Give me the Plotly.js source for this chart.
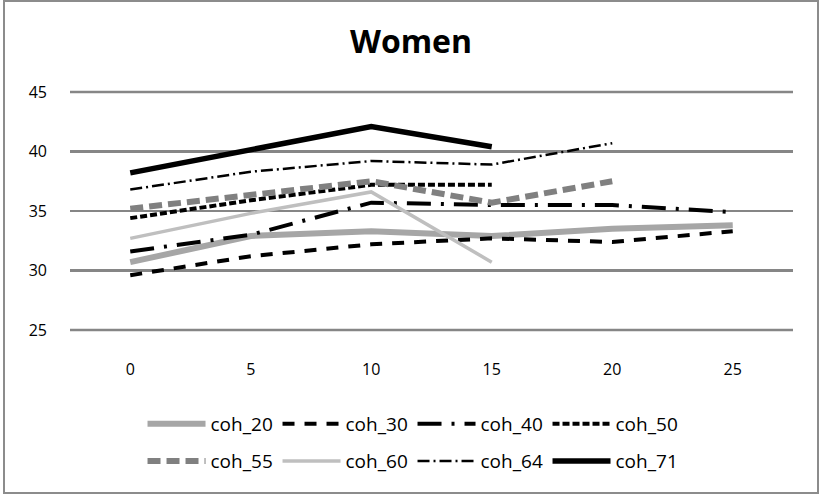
<!DOCTYPE html>
<html><head><meta charset="utf-8">
<script src="https://cdn.plot.ly/plotly-3.0.1.min.js"></script>
<style>html,body{margin:0;padding:0;background:#fff}#c{position:absolute;left:3px;top:0;width:812px;height:490px;border:2px solid #8c8c8c}</style>
</head><body><div id="c"></div>
<script>
const xLabels = ["0","5","10","15","20","25"];
const yTicks = [25, 30, 35, 40, 45];
const coh_20 = [30.7, 32.9, 33.3, 32.9, 33.5, 33.8];
const coh_30 = [29.6, 31.2, 32.2, 32.7, 32.4, 33.3];
const coh_40 = [31.6, 33.0, 35.7, 35.5, 35.5, 34.9];
const coh_50 = [34.4, 35.9, 37.2, 37.2, null, null];
const coh_55 = [35.2, 36.4, 37.5, 35.7, 37.5, null];
const coh_60 = [32.7, 34.8, 36.6, 30.7, null, null];
const coh_64 = [36.8, 38.3, 39.2, 38.9, 40.7, null];
const coh_71 = [38.2, 40.2, 42.1, 40.4, null, null];
const names = ["coh_20","coh_30","coh_40","coh_50","coh_55","coh_60","coh_64","coh_71"];
const series = [coh_20, coh_30, coh_40, coh_50, coh_55, coh_60, coh_64, coh_71];
const styles = [
  {color:"#A6A6A6", width:6, dash:"solid"},
  {color:"#000000", width:4, dash:"12px,10px"},
  {color:"#000000", width:4, dash:"24px,10px,3px,10px"},
  {color:"#000000", width:4, dash:"7px,3px"},
  {color:"#808080", width:6, dash:"13px,6px"},
  {color:"#BFBFBF", width:3.5, dash:"solid"},
  {color:"#000000", width:2.5, dash:"12px,4px,2px,4px"},
  {color:"#000000", width:5.5, dash:"solid"}
];
const traces = series.map((s,i)=>({
  type:"scatter", mode:"lines", name:names[i], x:xLabels, y:s,
  line:Object.assign({}, styles[i]), connectgaps:false,
  legend: i < 4 ? "legend" : "legend2"
}));
const legBase = {orientation:"h", x:0.1003, xanchor:"left", yanchor:"middle",
  font:{size:19, family:"Open Sans, sans-serif", color:"#000"},
  itemwidth:58, entrywidth:62, bgcolor:"rgba(0,0,0,0)", borderwidth:0};
const gridColor = "#868686";
const edgeGrid = [0, 1].map(v=>({
  type:"line", xref:"paper", yref:"paper", x0:0, x1:1, y0:v, y1:v, layer:"below",
  line:{color:gridColor, width:2.5}
}));
Plotly.newPlot("c", traces, {
  width:812, height:490,
  margin:{l:65, r:24, t:90, b:157},
  paper_bgcolor:"#fff", plot_bgcolor:"#fff",
  font:{family:"Open Sans, sans-serif", size:16, color:"#000"},
  title:{text:"<b>Women</b>", x:0.5, xanchor:"center", xref:"container", yref:"container", y:0.919, yanchor:"middle", font:{size:32, family:"Open Sans, sans-serif", color:"#000"}},
  xaxis:{type:"category", range:[-0.5, 5.5], showgrid:false, zeroline:false, showline:false, ticks:"", ticklabelstandoff:28, tickfont:{size:16}},
  yaxis:{range:[25, 45], tickvals:yTicks, showgrid:true, gridcolor:gridColor, gridwidth:2.5, zeroline:false, showline:false, ticks:"", ticklabelstandoff:22, tickfont:{size:16}},
  shapes: edgeGrid,
  showlegend:true,
  legend:Object.assign({}, legBase, {y:-0.395}),
  legend2:Object.assign({}, legBase, {y:-0.551})
}, {displayModeBar:false, staticPlot:true});
</script></body></html>
